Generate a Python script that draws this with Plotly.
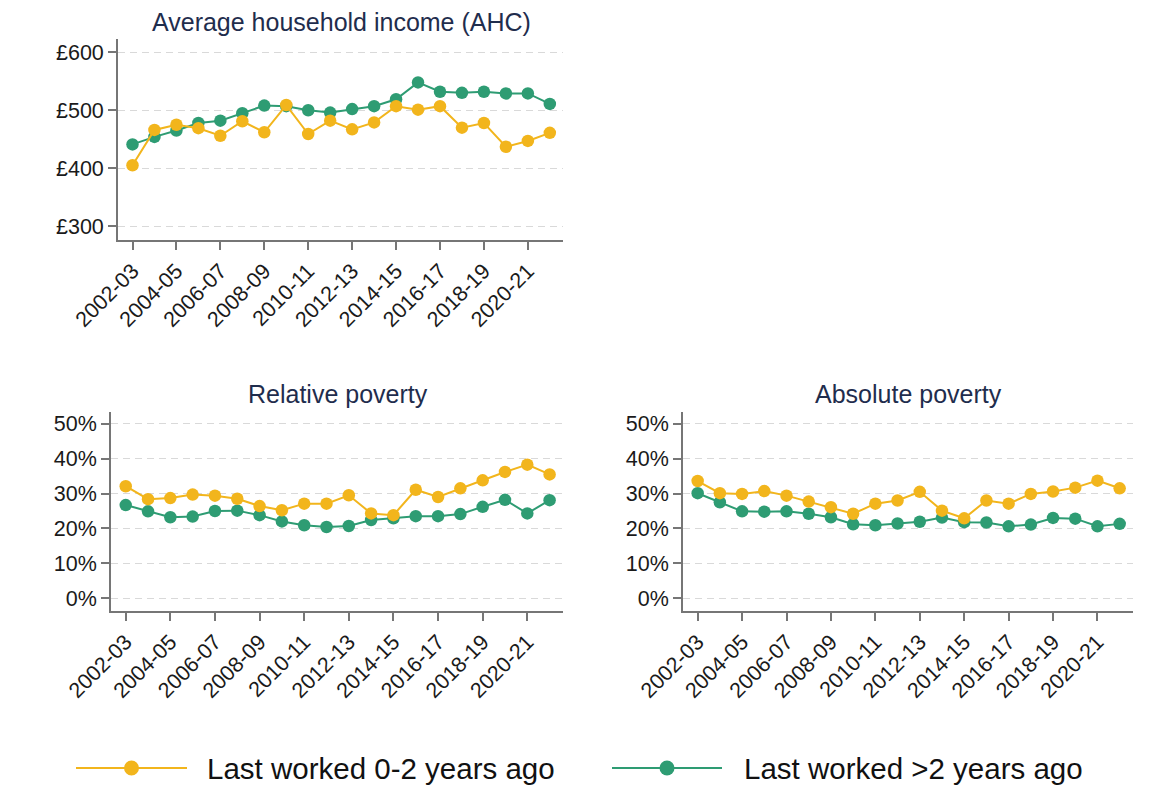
import plotly.graph_objects as go

periods = ["2002-03", "2003-04", "2004-05", "2005-06", "2006-07", "2007-08", "2008-09",
           "2009-10", "2010-11", "2011-12", "2012-13", "2013-14", "2014-15", "2015-16",
           "2016-17", "2017-18", "2018-19", "2019-20", "2020-21", "2021-22"]

income_recent = [405, 466, 475, 469, 456, 481, 462, 509, 459, 482, 467, 479, 507, 501, 507, 470, 478, 437, 447, 461]
income_long = [441, 454, 465, 478, 482, 495, 508, 507, 500, 496, 502, 507, 519, 548, 532, 530, 532, 529, 529, 511]

rel_recent = [32.1, 28.4, 28.7, 29.7, 29.4, 28.5, 26.4, 25.2, 27.1, 27.1, 29.5, 24.3, 23.8, 31.1, 29.0, 31.5, 33.8, 36.2, 38.3, 35.5]
rel_long = [26.7, 24.9, 23.2, 23.4, 25.0, 25.1, 23.8, 22.0, 20.9, 20.4, 20.7, 22.4, 22.9, 23.5, 23.5, 24.1, 26.2, 28.2, 24.3, 28.1]

abs_recent = [33.6, 30.1, 29.9, 30.7, 29.4, 27.7, 26.1, 24.2, 27.1, 28.0, 30.5, 25.1, 22.9, 28.0, 27.1, 29.9, 30.6, 31.7, 33.7, 31.5]
abs_long = [30.1, 27.5, 24.9, 24.8, 24.9, 24.2, 23.2, 21.2, 20.9, 21.4, 21.9, 23.1, 21.8, 21.7, 20.6, 21.1, 23.0, 22.8, 20.6, 21.3]

series_names = ["Last worked 0-2 years ago", "Last worked >2 years ago"]
panel_titles = ["Average household income (AHC)", "Relative poverty", "Absolute poverty"]
income_ticks = [300, 400, 500, 600]
pct_ticks = [0, 10, 20, 30, 40, 50]

YELLOW = "#F2B51C"
GREEN = "#2E9C73"
W, H = 1171, 787
FONT = "Arial, Liberation Sans, sans-serif"
AXIS_COLOR = "#767676"

idx = list(range(len(periods)))
xtickvals = idx[::2]
xticktext = periods[::2]

fig = go.Figure()

panels = [
    ("x", "y", income_long, income_recent),
    ("x2", "y2", rel_long, rel_recent),
    ("x3", "y3", abs_long, abs_recent),
]
for xa, ya, long_vals, recent_vals in panels:
    fig.add_trace(go.Scatter(x=idx, y=long_vals, xaxis=xa, yaxis=ya, mode="lines+markers",
                             line=dict(color=GREEN, width=2), marker=dict(color=GREEN, size=12.5),
                             name=series_names[1], showlegend=False))
    fig.add_trace(go.Scatter(x=idx, y=recent_vals, xaxis=xa, yaxis=ya, mode="lines+markers",
                             line=dict(color=YELLOW, width=2), marker=dict(color=YELLOW, size=12.5),
                             name=series_names[0], showlegend=False))

def px_x(p):
    return p / W

def px_y(p):
    return 1 - p / H

xaxis_common = dict(
    tickmode="array", tickvals=xtickvals, ticktext=xticktext, tickangle=-45,
    range=[-0.66, 19.6], showgrid=False, zeroline=False, automargin=False,
    showline=True, linecolor=AXIS_COLOR, linewidth=1.7,
    ticks="outside", ticklen=8, tickwidth=1.7, tickcolor=AXIS_COLOR,
    tickfont=dict(family=FONT, size=21.5, color="#1a1a1a"),
)
yaxis_common = dict(
    showgrid=True, gridcolor="#d9d9d9", griddash="7px,5px", gridwidth=1.2, zeroline=False,
    automargin=False,
    showline=True, linecolor=AXIS_COLOR, linewidth=1.7,
    ticks="outside", ticklen=8, tickwidth=1.7, tickcolor=AXIS_COLOR,
    tickfont=dict(family=FONT, size=21.5, color="#1a1a1a"),
)

fig.update_layout(
    width=W, height=H, margin=dict(l=0, r=0, t=0, b=0, autoexpand=False),
    paper_bgcolor="white", plot_bgcolor="white", showlegend=False,
    xaxis=dict(domain=[px_x(118), px_x(563)], anchor="y", **xaxis_common),
    yaxis=dict(domain=[px_y(240), px_y(39)], anchor="x", range=[276, 623],
               tickvals=income_ticks, ticktext=["£%d" % v for v in income_ticks], **yaxis_common),
    xaxis2=dict(domain=[px_x(111), px_x(563)], anchor="y2", **xaxis_common),
    yaxis2=dict(domain=[px_y(611), px_y(412)], anchor="x2", range=[-3.7, 53.4],
                tickvals=pct_ticks, ticktext=["%d%%" % v for v in pct_ticks], **yaxis_common),
    xaxis3=dict(domain=[px_x(683), px_x(1133)], anchor="y3", **xaxis_common),
    yaxis3=dict(domain=[px_y(611), px_y(412)], anchor="x3", range=[-3.7, 53.4],
                tickvals=pct_ticks, ticktext=["%d%%" % v for v in pct_ticks], **yaxis_common),
)

title_font = dict(family=FONT, size=25, color="#1f2d4d")
for title, cx, cy in [(panel_titles[0], 341, 22), (panel_titles[1], 338, 394), (panel_titles[2], 908, 394)]:
    fig.add_annotation(text=title, x=px_x(cx), y=px_y(cy), xref="paper", yref="paper",
                       showarrow=False, xanchor="center", yanchor="middle", font=title_font)

# Legend (manual, wide line keys like the reference)
legend_y = 768
for name, color, x0, x1, tx in [(series_names[0], YELLOW, 76, 187, 205),
                                (series_names[1], GREEN, 612, 722, 742)]:
    fig.add_shape(type="line", xref="paper", yref="paper", x0=px_x(x0), x1=px_x(x1),
                  y0=px_y(legend_y), y1=px_y(legend_y), line=dict(color=color, width=2))
    cxm = (x0 + x1) / 2
    fig.add_shape(type="circle", xref="paper", yref="paper",
                  x0=px_x(cxm - 7.5), x1=px_x(cxm + 7.5), y0=px_y(legend_y + 7.5), y1=px_y(legend_y - 7.5),
                  fillcolor=color, line=dict(color=color, width=0))
    fig.add_annotation(text=name, x=px_x(tx), y=px_y(legend_y), xref="paper", yref="paper",
                       showarrow=False, xanchor="left", yanchor="middle",
                       font=dict(family=FONT, size=29.5, color="#111111"))

fig.write_html("out.html", config={"displayModeBar": False},
               post_script="document.body.style.margin='0px';document.body.style.overflow='hidden';")
